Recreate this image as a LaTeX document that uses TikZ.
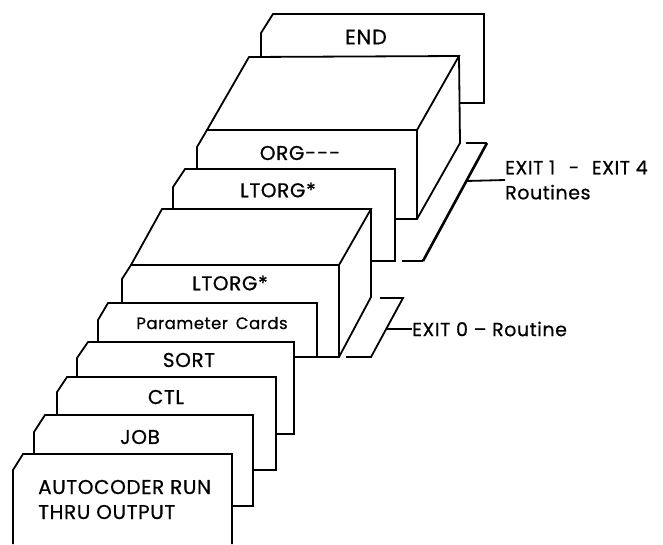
\documentclass[tikz,border=0pt]{standalone}
\usepackage{fontspec}
\setmainfont{Poppins}[LetterSpace=3,FakeBold=0.6]
\begin{document}
\begin{tikzpicture}[x=1pt,y=-1pt,
  card/.style={line width=1.8pt, line join=miter},
  thick bracket/.style={line width=2.6pt},
  lbl/.style={font=\fontsize{20}{24}\selectfont, inner sep=0pt},
  side/.style={font=\fontsize{19}{25}\selectfont, inner sep=0pt, anchor=west, align=left}]
\useasboundingbox (0,0) rectangle (663,544);
% Card 0: AUTOCODER
\draw[card] (13,544) -- (13,470) -- (23,454) -- (232,454) -- (232,544);
% Card 1: JOB
\draw[card] (34,454) -- (34,432) -- (45,415) -- (253,415) -- (253,506) -- (232,506);
% Card 2: CTL
\draw[card] (57,415) -- (57,392) -- (67,377) -- (276,377) -- (276,470) -- (253,470);
% Card 3: SORT
\draw[card] (77,377) -- (77,358) -- (88,342) -- (294,342) -- (294,434) -- (276,434);
% Card 4: Parameter Cards
\draw[card] (98,342) -- (98,320) -- (108,303) -- (317,303) -- (317,357) -- (294,357);
% Card 5: lower LTORG box
\draw[card] (122,303) -- (122,279) -- (131,265) -- (339,265) -- (339,357) -- (317,357);
\draw[card] (131,265) -- (162,209) -- (371,209) -- (339,265);
\draw[card] (371,209) -- (371,297) -- (339,357);
% Card 6: upper LTORG
\draw[card] (173,209) -- (173,187) -- (185,169) -- (395,169) -- (395,261) -- (371,261);
% Card 7: ORG box
\draw[card] (197,169) -- (197,147) -- (207,130) -- (417,130) -- (417,219) -- (395,219);
\draw[card] (207,130) -- (249,57) -- (459,56) -- (417,130);
\draw[card] (459,56) -- (460,143) -- (417,219);
% Card 8: END
\draw[card] (261,57) -- (261,33) -- (273,14) -- (484,14) -- (484,103) -- (460,103);
% EXIT 1 - EXIT 4 bracket
\coordinate (b1a) at (466,143);
\coordinate (b1b) at (487,143);
\coordinate (b1c) at (423,261);
\coordinate (b1d) at (402,261);
\coordinate (b1m) at (466,181);
\draw[card] (b1a) -- (b1b);
\draw[thick bracket] (b1b) -- (b1c);
\draw[card] (b1c) -- (b1d);
% EXIT 0 bracket
\coordinate (b0a) at (380,298);
\coordinate (b0b) at (403,298);
\coordinate (b0c) at (371,357);
\coordinate (b0d) at (346,357);
\coordinate (b0m) at (386,329);
\draw[card] (b0a) -- (b0b) -- (b0c) -- (b0d);
% Labels
\node[lbl, font=\fontsize{21}{24}\selectfont] (tend) at (366,37) {END};
\node[lbl] (torg) at (300,153) {ORG-\kern1pt-\kern1pt-};
\node[lbl] (tltu) at (278,190) {LTORG*};
\node[lbl] (tltl) at (230,283) {LTORG*};
\node[lbl, font=\fontsize{16.5}{20}\selectfont] (tpar) at (212,323) {Parameter\hspace{3pt} Cards};
\node[lbl] (tsort) at (189,360) {SORT};
\node[lbl] (tctl) at (166,397) {CTL};
\node[lbl] (tjob) at (140,437) {JOB};
\node[lbl, anchor=west, align=left, font=\fontsize{20}{25}\selectfont] (tauto) at (38,499.5) {AUTOCODER RUN\\THRU OUTPUT};
\node[side] (exit14) at (505,180) {EXIT 1\hspace{8pt} -\hspace{7pt} EXIT 4\\Routines};
\node[side] (exit0) at (412,329) {EXIT 0 – Routine};
% Connectors
\draw[card] (b1m) -- (exit14.west);
\draw[card] (b0m) -- (exit0.west);
\end{tikzpicture}
\end{document}
